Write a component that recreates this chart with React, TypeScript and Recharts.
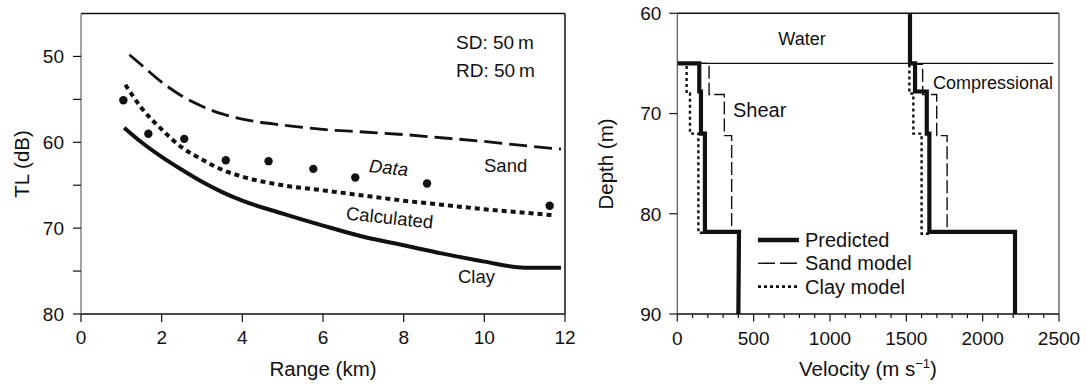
import React from 'react';
import { LineChart, Line, XAxis, YAxis, ReferenceLine } from 'recharts';

// ---------- Left panel: TL vs range ----------
const RANGE_TICKS = [0, 2, 4, 6, 8, 10, 12];
const TL_TICKS = [50, 55, 60, 65, 70, 75, 80];
const TL_LABELS = [50, 60, 70, 80];

const sandTL = [
  { r: 1.2, tl: 49.8 }, { r: 1.5, tl: 51.0 }, { r: 2.0, tl: 53.0 }, { r: 2.5, tl: 54.6 },
  { r: 3.0, tl: 55.8 }, { r: 3.5, tl: 56.7 }, { r: 4.0, tl: 57.3 }, { r: 5.0, tl: 58.0 },
  { r: 6.0, tl: 58.5 }, { r: 7.0, tl: 58.8 }, { r: 8.0, tl: 59.1 }, { r: 9.0, tl: 59.5 },
  { r: 10.0, tl: 59.9 }, { r: 11.0, tl: 60.4 }, { r: 11.9, tl: 60.8 },
];
const calculatedTL = [
  { r: 1.1, tl: 53.3 }, { r: 1.5, tl: 56.0 }, { r: 2.0, tl: 58.5 }, { r: 2.5, tl: 60.6 },
  { r: 3.0, tl: 62.0 }, { r: 3.5, tl: 63.2 }, { r: 4.0, tl: 64.0 }, { r: 5.0, tl: 65.0 },
  { r: 6.0, tl: 65.6 }, { r: 7.0, tl: 66.2 }, { r: 8.0, tl: 66.8 }, { r: 9.0, tl: 67.3 },
  { r: 10.0, tl: 67.8 }, { r: 11.0, tl: 68.2 }, { r: 11.7, tl: 68.5 },
];
const clayTL = [
  { r: 1.07, tl: 58.3 }, { r: 1.5, tl: 60.0 }, { r: 2.0, tl: 61.7 }, { r: 2.5, tl: 63.2 },
  { r: 3.0, tl: 64.6 }, { r: 3.5, tl: 65.8 }, { r: 4.0, tl: 66.8 }, { r: 5.0, tl: 68.3 },
  { r: 6.0, tl: 69.7 }, { r: 7.0, tl: 71.0 }, { r: 8.0, tl: 72.0 }, { r: 9.0, tl: 73.0 },
  { r: 10.0, tl: 73.9 }, { r: 11.0, tl: 74.6 }, { r: 11.9, tl: 74.6 },
];
const measuredTL = [
  { r: 1.05, tl: 55.1 }, { r: 1.67, tl: 59.0 }, { r: 2.56, tl: 59.6 }, { r: 3.59, tl: 62.1 },
  { r: 4.65, tl: 62.2 }, { r: 5.76, tl: 63.1 }, { r: 6.8, tl: 64.1 }, { r: 8.58, tl: 64.8 },
  { r: 11.62, tl: 67.4 },
];

// ---------- Right panel: velocity profiles ----------
const DEPTH_TICKS = [60, 70, 80, 90];
const VEL_TICKS = [0, 100, 200, 300, 400, 500, 600, 700, 800, 900, 1000, 1100, 1200, 1300,
  1400, 1500, 1600, 1700, 1800, 1900, 2000, 2100, 2200, 2300, 2400, 2500];

const seafloor = [{ v: 0, d: 65 }, { v: 2462, d: 65 }];

const predShear = [
  { v: 0, d: 65 }, { v: 144, d: 65 }, { v: 144, d: 67.8 }, { v: 155, d: 67.8 },
  { v: 155, d: 72 }, { v: 181, d: 72 }, { v: 181, d: 81.8 }, { v: 404, d: 81.8 }, { v: 400, d: 90 },
];
const sandShear = [
  { v: 0, d: 65 }, { v: 208, d: 65 }, { v: 208, d: 68.1 }, { v: 308, d: 68.1 },
  { v: 308, d: 72.2 }, { v: 356, d: 72.2 }, { v: 356, d: 81.9 }, { v: 404, d: 81.9 },
];
const clayShear = [
  { v: 0, d: 65 }, { v: 61, d: 65 }, { v: 61, d: 68 }, { v: 83, d: 68 },
  { v: 83, d: 72 }, { v: 138, d: 72 }, { v: 138, d: 81.9 }, { v: 404, d: 81.9 },
];
const predComp = [
  { v: 1524, d: 60 }, { v: 1524, d: 65 }, { v: 1557, d: 65 }, { v: 1557, d: 67.8 },
  { v: 1634, d: 67.8 }, { v: 1634, d: 72 }, { v: 1651, d: 72 }, { v: 1651, d: 81.8 },
  { v: 2212, d: 81.8 }, { v: 2212, d: 90 },
];
const sandComp = [
  { v: 1524, d: 65.1 }, { v: 1607, d: 65.1 }, { v: 1607, d: 68.1 }, { v: 1699, d: 68.1 },
  { v: 1699, d: 72.2 }, { v: 1767, d: 72.2 }, { v: 1767, d: 81.9 }, { v: 2212, d: 81.9 },
];
const clayComp = [
  { v: 1520, d: 65.1 }, { v: 1520, d: 68 }, { v: 1546, d: 68 }, { v: 1546, d: 72 },
  { v: 1600, d: 72 }, { v: 1600, d: 82 }, { v: 1651, d: 82 },
];

const LEGEND_ITEMS = [
  { name: 'Predicted', width: 4.5, dash: undefined as string | undefined },
  { name: 'Sand model', width: 1.4, dash: '17 5' },
  { name: 'Clay model', width: 2.6, dash: '3 3' },
];

const FONT = '"Liberation Sans", Arial, Helvetica, sans-serif';
const INK = '#111';

const VelTick = (props: any) => {
  const { x, y, payload } = props;
  const major = payload.value % 500 === 0;
  return (
    <g>
      <line x1={x} x2={x} y1={y} y2={y + (major ? 7.5 : 4)} stroke={INK} strokeWidth={1.2} />
      {major && (
        <text x={x} y={y + 31} textAnchor="middle" fontSize={19} fontFamily={FONT} fill={INK}>
          {payload.value}
        </text>
      )}
    </g>
  );
};

export default function App() {
  return (
    <div style={{ position: 'absolute', left: 0, top: 0, width: 1087, height: 384, background: '#fff', fontFamily: FONT }}>
      <div style={{ position: 'absolute', left: 0, top: 0 }}>
        <LineChart width={600} height={384} margin={{ top: 13.5, right: 35, bottom: 30, left: 0 }}>
          <XAxis
            type="number" dataKey="r" domain={[0, 12]} ticks={RANGE_TICKS} allowDuplicatedCategory={false}
            height={40} tickSize={8} tickMargin={9}
            tick={{ fontSize: 19, fill: INK, fontFamily: FONT }}
            axisLine={{ stroke: INK, strokeWidth: 1.5 }} tickLine={{ stroke: INK, strokeWidth: 1.2 }}
          />
          <YAxis
            type="number" domain={[45, 80]} reversed ticks={TL_TICKS} width={81}
            tickSize={8} tickMargin={9}
            tickFormatter={(v: number) => (TL_LABELS.includes(v) ? String(v) : '')}
            tick={{ fontSize: 19, fill: INK, fontFamily: FONT }}
            axisLine={{ stroke: '#666', strokeWidth: 1.2 }} tickLine={{ stroke: INK, strokeWidth: 1.2 }}
          />
          <ReferenceLine y={45} stroke={INK} strokeWidth={1.5} />
          <ReferenceLine x={12} stroke={INK} strokeWidth={1.5} />
          <Line type="monotone" data={sandTL} dataKey="tl" stroke={INK} strokeWidth={2.8} strokeDasharray="18 7" dot={false} isAnimationActive={false} />
          <Line type="monotone" data={calculatedTL} dataKey="tl" stroke={INK} strokeWidth={4} strokeDasharray="5 4" dot={false} isAnimationActive={false} />
          <Line type="monotone" data={clayTL} dataKey="tl" stroke={INK} strokeWidth={4} dot={false} isAnimationActive={false} />
          <Line data={measuredTL} dataKey="tl" stroke="none" dot={{ r: 4.2, fill: INK, stroke: 'none' }} isAnimationActive={false} />
          <text x={456} y={49} fontSize={19} fontFamily={FONT} fill={INK}>SD: 50{'\u2009'}m</text>
          <text x={456} y={77} fontSize={19} fontFamily={FONT} fill={INK}>RD: 50{'\u2009'}m</text>
          <text transform="translate(388,174) rotate(6)" textAnchor="middle" fontSize={18.5} fontStyle="italic" fontFamily={FONT} fill={INK}>Data</text>
          <text x={484} y={172} fontSize={18.5} fontFamily={FONT} fill={INK}>Sand</text>
          <text transform="translate(389,224) rotate(6)" textAnchor="middle" fontSize={18.5} fontFamily={FONT} fill={INK}>Calculated</text>
          <text x={458} y={283} fontSize={18.5} fontFamily={FONT} fill={INK}>Clay</text>
          <text x={323} y={376} textAnchor="middle" fontSize={20.5} fontFamily={FONT} fill={INK}>Range (km)</text>
          <text transform="translate(29,164) rotate(-90)" textAnchor="middle" fontSize={20.5} fontFamily={FONT} fill={INK}>TL (dB)</text>
        </LineChart>
      </div>
      <div style={{ position: 'absolute', left: 590, top: 0 }}>
        <LineChart width={497} height={384} margin={{ top: 13.3, right: 28, bottom: 30, left: 0 }}>
          <XAxis
            type="number" dataKey="v" domain={[0, 2500]} ticks={VEL_TICKS} allowDuplicatedCategory={false}
            height={40} tickSize={0} tickMargin={0} tickLine={false} interval={0}
            tick={<VelTick />}
            axisLine={{ stroke: INK, strokeWidth: 1.5 }}
          />
          <YAxis
            type="number" domain={[60, 90]} reversed ticks={DEPTH_TICKS} width={87.3}
            tickSize={8} tickMargin={8}
            tick={{ fontSize: 19, fill: INK, fontFamily: FONT }}
            axisLine={{ stroke: '#555', strokeWidth: 1.2 }} tickLine={{ stroke: INK, strokeWidth: 1.2 }}
          />
          <ReferenceLine y={60} stroke={INK} strokeWidth={1.5} />
          <ReferenceLine x={2500} stroke="#555" strokeWidth={1.3} />
          <Line data={seafloor} dataKey="d" stroke={INK} strokeWidth={1.1} dot={false} isAnimationActive={false} />
          <Line data={sandShear} dataKey="d" stroke={INK} strokeWidth={1.4} strokeDasharray="13 4" dot={false} isAnimationActive={false} />
          <Line data={clayShear} dataKey="d" stroke={INK} strokeWidth={2.4} strokeDasharray="3 3" dot={false} isAnimationActive={false} />
          <Line data={predShear} dataKey="d" stroke={INK} strokeWidth={4.2} dot={false} isAnimationActive={false} />
          <Line data={sandComp} dataKey="d" stroke={INK} strokeWidth={1.4} strokeDasharray="13 4" dot={false} isAnimationActive={false} />
          <Line data={clayComp} dataKey="d" stroke={INK} strokeWidth={2.4} strokeDasharray="3 3" dot={false} isAnimationActive={false} />
          <Line data={predComp} dataKey="d" stroke={INK} strokeWidth={4.2} dot={false} isAnimationActive={false} />
          <text x={212} y={45} textAnchor="middle" fontSize={18} fontFamily={FONT} fill={INK}>Water</text>
          <text x={143} y={117} fontSize={20} fontFamily={FONT} fill={INK}>Shear</text>
          <text x={343} y={88.5} fontSize={18} fontFamily={FONT} fill={INK}>Compressional</text>
          {LEGEND_ITEMS.map((it, i) => (
            <g key={it.name}>
              <line x1={168} x2={209} y1={240 + i * 23.3} y2={240 + i * 23.3} stroke={INK} strokeWidth={it.width} strokeDasharray={it.dash} />
              <text x={215} y={240 + i * 23.3 + 7} fontSize={20} fontFamily={FONT} fill={INK}>{it.name}</text>
            </g>
          ))}
          <text x={278} y={376} textAnchor="middle" fontSize={20.5} fontFamily={FONT} fill={INK}>
            <tspan>Velocity (m s</tspan>
            <tspan dy={-8} fontSize={13}>{'\u22121'}</tspan>
            <tspan dy={8}>)</tspan>
          </text>
          <text transform="translate(23,164) rotate(-90)" textAnchor="middle" fontSize={20.5} fontFamily={FONT} fill={INK}>Depth (m)</text>
        </LineChart>
      </div>
    </div>
  );
}
